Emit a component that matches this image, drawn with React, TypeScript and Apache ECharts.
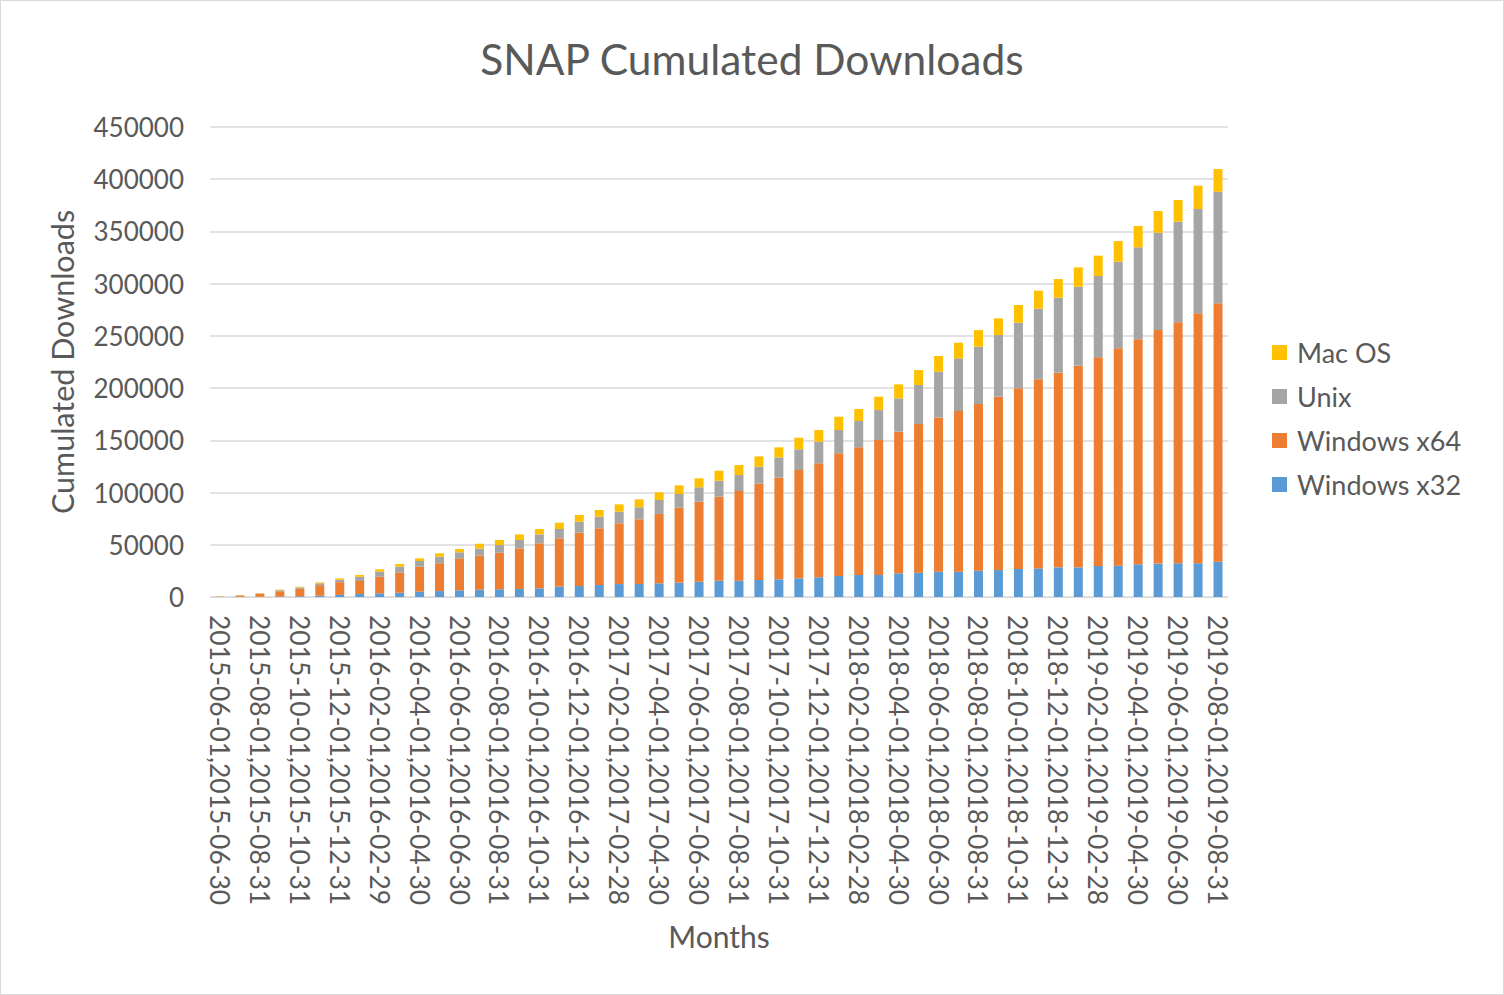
import React, { useEffect, useRef } from "react";
import * as echarts from "echarts";

const categories: string[] = [
  "2015-06-01,2015-06-30", "2015-07-01,2015-07-31", "2015-08-01,2015-08-31", "2015-09-01,2015-09-30",
  "2015-10-01,2015-10-31", "2015-11-01,2015-11-30", "2015-12-01,2015-12-31",
  "2016-01-01,2016-01-31", "2016-02-01,2016-02-29", "2016-03-01,2016-03-31", "2016-04-01,2016-04-30",
  "2016-05-01,2016-05-31", "2016-06-01,2016-06-30", "2016-07-01,2016-07-31", "2016-08-01,2016-08-31",
  "2016-09-01,2016-09-30", "2016-10-01,2016-10-31", "2016-11-01,2016-11-30", "2016-12-01,2016-12-31",
  "2017-01-01,2017-01-31", "2017-02-01,2017-02-28", "2017-03-01,2017-03-31", "2017-04-01,2017-04-30",
  "2017-05-01,2017-05-31", "2017-06-01,2017-06-30", "2017-07-01,2017-07-31", "2017-08-01,2017-08-31",
  "2017-09-01,2017-09-30", "2017-10-01,2017-10-31", "2017-11-01,2017-11-30", "2017-12-01,2017-12-31",
  "2018-01-01,2018-01-31", "2018-02-01,2018-02-28", "2018-03-01,2018-03-31", "2018-04-01,2018-04-30",
  "2018-05-01,2018-05-31", "2018-06-01,2018-06-30", "2018-07-01,2018-07-31", "2018-08-01,2018-08-31",
  "2018-09-01,2018-09-30", "2018-10-01,2018-10-31", "2018-11-01,2018-11-30", "2018-12-01,2018-12-31",
  "2019-01-01,2019-01-31", "2019-02-01,2019-02-28", "2019-03-01,2019-03-31", "2019-04-01,2019-04-30",
  "2019-05-01,2019-05-31", "2019-06-01,2019-06-30", "2019-07-01,2019-07-31", "2019-08-01,2019-08-31",
];

const windowsX32: number[] = [
  50, 100, 200, 400, 700, 1200, 2000, 2900, 3500, 4100, 5100, 5700, 6400, 7000, 7400, 7700, 8300,
  9900, 10500, 11500, 12400, 12400, 13100, 13700, 14600, 15600, 15600, 16300, 16900, 17900, 18900,
  20100, 21100, 21100, 22700, 23300, 24200, 24200, 25200, 25800, 26800, 27400, 28400, 28400, 29700,
  30000, 31300, 32000, 32300, 32300, 33800,
];

const windowsX64: number[] = [
  300, 1200, 2600, 5100, 7100, 10100, 12200, 12400, 15900, 19500, 24000, 26600, 30600, 32800, 35000,
  38900, 43100, 46300, 51100, 54300, 58200, 62000, 66400, 71800, 76600, 80400, 85900, 92200, 97300,
  103700, 109100, 117500, 122200, 129200, 135600, 142300, 147500, 153900, 159600, 166000, 173000,
  181000, 186400, 193100, 199800, 208100, 215400, 223600, 230700, 239300, 247400,
];

const unix: number[] = [
  100, 300, 600, 1000, 1300, 1800, 2400, 4100, 4800, 5500, 5400, 6300, 5800, 6500, 7400, 8000, 8600,
  8900, 10500, 11100, 11100, 11500, 13400, 13100, 13800, 15300, 15300, 16200, 19500, 19800, 20700,
  22300, 25200, 28700, 31900, 37400, 44000, 50400, 54800, 59000, 62800, 67600, 71800, 75600, 77800,
  82900, 88100, 93200, 96300, 99900, 106800,
];

const macOS: number[] = [
  50, 200, 300, 500, 700, 900, 1200, 1700, 2300, 2500, 2500, 3200, 3200, 4700, 4800, 5400, 5100,
  6000, 6400, 6400, 7000, 7600, 7300, 8300, 8600, 9600, 9600, 9900, 9600, 11100, 11200, 12700,
  11500, 12800, 13400, 14300, 15000, 15000, 16000, 16000, 17000, 17300, 17800, 18500, 19500, 19800,
  20400, 20800, 20800, 22300, 21800,
];

const FONT = "Lato, 'Open Sans', sans-serif";
const TEXT_COLOR = "#595959";

export default function App() {
  const ref = useRef<HTMLDivElement>(null);

  useEffect(() => {
    if (!ref.current) return;
    const chart = echarts.init(ref.current, undefined, { renderer: "svg" });
    const mk = (name: string, data: number[], color: string) => ({
      name,
      type: "bar" as const,
      stack: "total",
      data,
      barWidth: 9,
      itemStyle: { color },
    });
    chart.setOption({
      animation: false,
      backgroundColor: "#ffffff",
      textStyle: { fontFamily: FONT },
      title: {
        text: "SNAP Cumulated Downloads",
        left: "center",
        top: 32,
        textStyle: { fontFamily: FONT, fontSize: 42.5, fontWeight: "normal", color: TEXT_COLOR },
      },
      legend: {
        orient: "vertical",
        left: 1267,
        top: 334,
        itemWidth: 15,
        itemHeight: 15,
        itemGap: 17,
        icon: "rect",
        data: ["Mac OS", "Unix", "Windows x64", "Windows x32"],
        textStyle: { fontFamily: FONT, fontSize: 27, color: TEXT_COLOR, padding: [0, 0, 0, 5] },
      },
      grid: { left: 210, right: 276, top: 127, bottom: 398, containLabel: false },
      xAxis: {
        type: "category",
        data: categories,
        name: "Months",
        nameLocation: "middle",
        nameGap: 324,
        nameTextStyle: { fontFamily: FONT, fontSize: 30, color: TEXT_COLOR },
        axisLine: { lineStyle: { color: "#d9d9d9", width: 1 } },
        axisTick: { show: false },
        axisLabel: {
          interval: 1,
          rotate: -90,
          margin: 18,
          fontFamily: FONT,
          fontSize: 26.4,
          color: TEXT_COLOR,
        },
      },
      yAxis: {
        type: "value",
        min: 0,
        max: 450000,
        interval: 50000,
        name: "Cumulated Downloads",
        nameLocation: "middle",
        nameGap: 133,
        nameTextStyle: { fontFamily: FONT, fontSize: 30.5, color: TEXT_COLOR },
        axisLine: { show: false },
        axisTick: { show: false },
        splitLine: { lineStyle: { color: "#d9d9d9", width: 1.5 } },
        axisLabel: {
          margin: 26,
          fontFamily: FONT,
          fontSize: 26,
          color: TEXT_COLOR,
          formatter: (v: number) => String(v),
        },
      },
      graphic: [
        {
          type: "rect",
          shape: { x: 0.5, y: 0.5, width: 1503, height: 994 },
          style: { fill: "none", stroke: "#d9d9d9", lineWidth: 1 },
          silent: true,
        },
      ],
      series: [
        mk("Windows x32", windowsX32, "#5b9bd5"),
        mk("Windows x64", windowsX64, "#ed7d31"),
        mk("Unix", unix, "#a5a5a5"),
        mk("Mac OS", macOS, "#ffc000"),
      ],
    });
    return () => chart.dispose();
  }, []);

  return (
    <div
      ref={ref}
      style={{ position: "fixed", left: 0, top: 0, width: 1504, height: 995, background: "#fff" }}
    />
  );
}
